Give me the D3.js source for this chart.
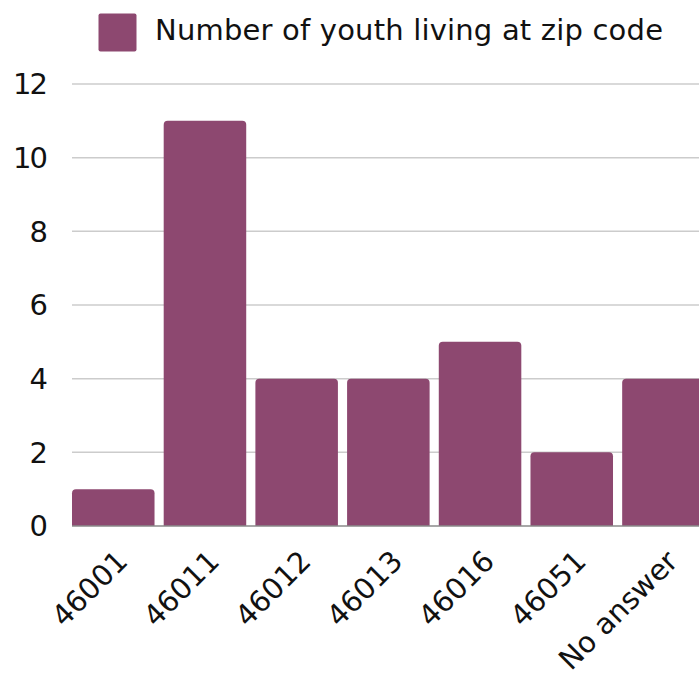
<!DOCTYPE html>
<html>
<head>
<meta charset="utf-8">
<script src="https://cdn.jsdelivr.net/npm/d3@7"></script>
<style>
  html, body { margin: 0; padding: 0; background: #fff; }
  svg { display: block; }
  text { font-family: "DejaVu Sans", sans-serif; fill: #111; }
</style>
</head>
<body>
<svg id="chart" width="699" height="677"></svg>
<script>
const categories = ["46001", "46011", "46012", "46013", "46016", "46051", "No answer"];
const values = [1, 11, 4, 4, 5, 2, 4];
const yTicks = [0, 2, 4, 6, 8, 10, 12];
const seriesName = "Number of youth living at zip code";

const W = 699, H = 677;
const barColor = "#8d4870";
const fontSize = 29;

const svg = d3.select("#chart");

const x = d3.scaleBand()
  .domain(categories)
  .range([72, 704.7])
  .paddingInner(0.1)
  .paddingOuter(0);

const y = d3.scaleLinear()
  .domain([0, 12])
  .range([526, 84]);

// gridlines
svg.append("g")
  .selectAll("line")
  .data(yTicks.filter(d => d !== 0))
  .join("line")
  .attr("x1", 72)
  .attr("x2", W)
  .attr("y1", d => y(d))
  .attr("y2", d => y(d))
  .attr("stroke", "#cccccc")
  .attr("stroke-width", 1.5);

// y tick labels
svg.append("g")
  .selectAll("text")
  .data(yTicks)
  .join("text")
  .attr("x", 46)
  .attr("y", d => y(d))
  .attr("dy", "0.36em")
  .attr("text-anchor", "end")
  .style("font-size", fontSize + "px")
  .style("letter-spacing", "-2px")
  .text(d => d);

// bars with rounded top corners
const r = 4;
function barPath(d, i) {
  const x0 = x(categories[i]);
  const w = x.bandwidth();
  const y0 = y(d);
  const yb = y(0);
  return `M${x0},${yb} L${x0},${y0 + r} Q${x0},${y0} ${x0 + r},${y0} L${x0 + w - r},${y0} Q${x0 + w},${y0} ${x0 + w},${y0 + r} L${x0 + w},${yb} Z`;
}
svg.append("g")
  .selectAll("path")
  .data(values)
  .join("path")
  .attr("d", (d, i) => barPath(d, i))
  .attr("fill", barColor);

// baseline
svg.append("line")
  .attr("x1", 72)
  .attr("x2", W)
  .attr("y1", y(0))
  .attr("y2", y(0))
  .attr("stroke", "#8a8a8a")
  .attr("stroke-width", 1.5);

// x labels rotated
svg.append("g")
  .selectAll("text")
  .data(categories)
  .join("text")
  .attr("transform", d => `translate(${x(d) + x.bandwidth() / 2 + 16},${563}) rotate(-45)`)
  .attr("text-anchor", "end")
  .style("font-size", fontSize + "px")
  .text(d => d);

// legend
svg.append("rect")
  .attr("x", 98.5)
  .attr("y", 13.5)
  .attr("width", 38)
  .attr("height", 38)
  .attr("rx", 2)
  .attr("fill", barColor);
svg.append("text")
  .attr("x", 155)
  .attr("y", 40)
  .attr("textLength", 508)
  .attr("lengthAdjust", "spacing")
  .style("font-size", fontSize + "px")
  .text(seriesName);
</script>
</body>
</html>
